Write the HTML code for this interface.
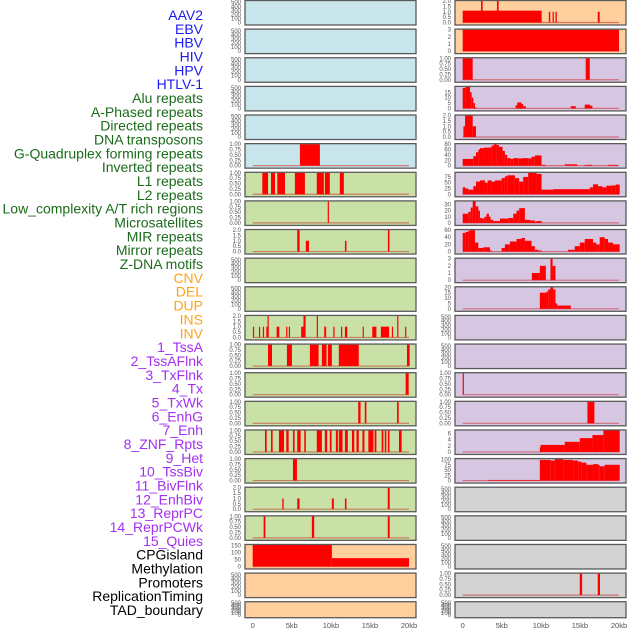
<!DOCTYPE html>
<html><head><meta charset="utf-8"><style>
html,body{margin:0;padding:0;background:#fff;}
svg{display:block;font-family:"Liberation Sans",sans-serif;}
</style></head><body>
<svg id="chart" width="630" height="630" viewBox="0 0 630 630" xmlns="http://www.w3.org/2000/svg"></svg>
<script>
// ---------- labels ----------
const labels = ["AAV2","EBV","HBV","HIV","HPV","HTLV-1","Alu repeats","A-Phased repeats","Directed repeats","DNA transposons","G-Quadruplex forming repeats","Inverted repeats","L1 repeats","L2 repeats","Low_complexity A/T rich regions","Microsatellites","MIR repeats","Mirror repeats","Z-DNA motifs","CNV","DEL","DUP","INS","INV","1_TssA","2_TssAFlnk","3_TxFlnk","4_Tx","5_TxWk","6_EnhG","7_Enh","8_ZNF_Rpts","9_Het","10_TssBiv","11_BivFlnk","12_EnhBiv","13_ReprPC","14_ReprPCWk","15_Quies","CPGisland","Methylation","Promoters","ReplicationTiming","TAD_boundary"];
const labelGroups = ["v","v","v","v","v","v","r","r","r","r","r","r","r","r","r","r","r","r","r","s","s","s","s","s","c","c","c","c","c","c","c","c","c","c","c","c","c","c","c","o","o","o","o","o"];
const xTicks = [0,5000,10000,15000,20000];
const xTickLabels = ["0","5kb","10kb","15kb","20kb"];

// ---------- tick sets ----------
const tEmpty = [0,100,200,300,400,500];
const t1 = [0,0.25,0.5,0.75,1];
const t2 = [0,0.5,1,1.5,2];

// ---------- left column data: [startKb, endKb, value] ----------
const L01=[],L02=[],L03=[],L04=[],L05=[];
const L06=[[6.04,8.6,1]];
const L07=[[1.23,1.96,1],[2.34,2.85,1],[3.15,4.13,1],[5.4,6.68,1],[8.2,9.1,1],[9.23,9.87,1],[11.15,11.66,1]];
const L08=[[9.6,9.75,1]];
const L09=[[5.7,6.0,2],[6.8,7.2,1],[11.8,12.0,1],[17.3,17.5,2]];
const L10=[],L11=[];
const L12=[[0.03,0.15,1],[0.8,0.92,1],[1.3,1.42,1],[1.74,1.86,1],[1.9,2.05,2],[3.06,3.4,1],[4.28,4.4,1],[4.62,4.74,1],[6.2,6.5,1],[6.5,6.77,2],[8.2,8.32,2],[9.15,9.4,1],[10.32,10.44,1],[11.3,11.42,1],[11.8,12.1,1],[14.07,14.19,1],[15.3,15.83,1],[16.4,17.45,1],[17.81,17.93,1],[18.49,18.61,2],[19.5,19.65,1]];
const L13=[[1.96,2.47,1],[4.38,5.02,1],[7.32,8.43,1],[8.85,9.45,1],[9.62,10.13,1],[11.02,13.57,1],[19.74,20.08,1]];
const L14=[[19.57,19.96,1]];
const L15=[[13.5,13.8,1],[14.34,14.55,1],[18.47,18.68,1]];
const L16=[[1.57,1.79,1],[2.34,2.55,1],[3.36,4.0,1],[4.3,4.6,1],[5.15,5.36,1],[5.7,6.13,1],[6.6,6.8,1],[8.2,8.85,1],[9.23,9.53,1],[9.87,10.09,1],[10.64,10.9,1],[11.02,11.5,1],[11.8,12.17,1],[12.7,13.0,1],[13.28,13.57,1],[14.04,14.3,1],[14.8,15.45,1],[15.6,15.83,1],[16.5,16.72,1],[16.9,17.1,1],[17.3,17.5,1],[18.72,19.06,1]];
const L17=[[5.15,5.66,1]];
const L18=[[3.79,3.96,1],[5.7,6.0,1],[10.13,10.38,1],[11.8,12.0,1],[17.28,17.53,2]];
const L19=[[1.4,1.62,1],[7.57,7.87,1],[17.28,17.53,1]];
const L20=[[0,10.13,155],[10.13,20.0,60]];
const L21=[],L22=[];

// ---------- right column data ----------
const R01=[[0,10.1,1.1],[2.34,2.55,2],[4.38,4.6,2],[11.02,11.2,1],[11.5,11.66,1],[11.87,12.04,1],[17.28,17.53,1]];
const R02=[[0,20.0,3]];
const R03=[[0,1.28,1],[15.74,16.26,1]];
const R04=[[0,0.34,19],[0.34,0.94,20],[0.94,1.15,15],[1.15,1.36,10],[1.36,1.57,5],[1.57,1.7,1],[6.77,6.98,3],[6.98,7.53,5.5],[7.53,7.74,4],[7.74,8.09,2],[13.83,14.47,2],[15.62,16.3,3.5],[16.3,16.6,2.5]];
const R05=[[0.09,0.3,1],[0.3,1.28,2],[1.28,1.7,1]];
const R06=[[0,1.36,25],[1.36,1.7,35],[1.7,2.0,50],[2.0,2.21,60],[2.21,2.72,65],[2.72,3.36,67],[3.36,3.7,68],[3.7,4.0,75],[4.0,4.34,80],[4.34,4.64,77],[4.64,5.1,70],[5.1,5.4,55],[5.4,5.7,40],[5.7,6.13,28],[6.13,6.47,25],[6.47,7.1,28],[7.1,7.66,27],[7.66,8.38,28],[8.38,8.81,27],[8.81,9.23,33],[9.23,10.09,38],[10.09,10.64,3],[13.06,14.64,5],[15.62,16.6,3],[18.6,19.87,3]];
const R07=[[0,0.34,30],[0.34,0.72,25],[0.72,1.36,20],[1.36,1.7,35],[1.7,2.21,55],[2.21,2.85,60],[2.85,3.19,50],[3.19,3.7,60],[3.7,4.13,55],[4.13,4.98,60],[4.98,5.4,70],[5.4,5.7,78],[5.7,6.68,82],[6.68,7.23,70],[7.23,7.74,55],[7.74,8.38,75],[8.38,9.45,93],[9.45,10.09,88],[10.09,11.57,20],[11.57,16.26,22],[16.26,16.68,30],[16.68,17.32,43],[17.32,17.87,35],[17.87,18.38,30],[18.38,19.02,37],[19.02,19.57,38],[19.57,20.09,42]];
const R08=[[0,0.72,15],[0.72,1.02,18],[1.02,1.28,25],[1.28,1.66,35],[1.66,2.0,27],[2.0,2.21,20],[2.21,2.55,8],[2.55,2.77,7],[2.77,3.06,10],[3.06,3.36,15],[3.36,3.57,10],[3.57,3.91,5],[3.91,4.77,3],[4.77,5.83,7],[5.83,6.47,8],[6.47,6.89,15],[6.89,7.23,20],[7.23,7.96,24],[7.96,8.6,5],[8.6,9.23,4],[9.23,9.45,2],[9.45,10.09,3]];
const R09=[[0,0.38,52],[0.38,0.72,55],[0.72,0.94,58],[0.94,1.57,60],[1.57,2.0,25],[2.0,2.64,10],[2.64,3.49,12],[3.49,3.7,3],[4.98,5.4,10],[5.4,6.04,20],[6.04,6.89,28],[6.89,7.53,35],[7.53,7.96,38],[7.96,8.81,30],[8.81,9.23,15],[9.23,9.66,5],[9.66,10.09,3],[13.49,14.34,5],[14.34,14.98,15],[14.98,15.62,25],[15.62,16.68,35],[16.68,17.1,25],[17.1,17.53,20],[17.53,18.17,40],[18.17,18.6,35],[18.6,19.23,25],[19.23,20.09,20]];
const R10=[[8.85,9.87,1],[9.87,10.64,2],[11.23,11.5,3],[11.5,11.87,2]];
const R11=[[9.87,10.72,15],[10.72,10.94,16],[10.94,11.23,18],[11.23,11.57,20],[11.57,11.87,18],[11.87,12.09,5],[12.09,13.83,3]];
const R12=[],R13=[];
const R14=[[0,0.15,1]];
const R15=[[15.96,16.85,1]];
const R16=[[9.87,9.96,1.5],[9.96,13.06,2.3],[13.06,14.98,3.3],[14.98,16.6,4.5],[16.6,18.0,5.5],[18.0,20.09,7]];
const R17=[[3.28,9.87,3],[9.87,11.27,98],[11.27,11.8,95],[11.8,12.85,102],[12.85,14.13,98],[14.13,14.77,95],[14.77,15.19,90],[15.19,15.83,85],[15.83,16.68,75],[16.68,17.32,78],[17.32,17.53,75],[17.53,18.17,68],[18.17,20.09,75]];
const R18=[],R19=[],R20=[];
const R21=[[14.98,15.28,1],[17.28,17.57,1]];
const R22=[];

const leftData=[L01,L02,L03,L04,L05,L06,L07,L08,L09,L10,L11,L12,L13,L14,L15,L16,L17,L18,L19,L20,L21,L22];
const rightData=[R01,R02,R03,R04,R05,R06,R07,R08,R09,R10,R11,R12,R13,R14,R15,R16,R17,R18,R19,R20,R21,R22];
const leftTicks=[tEmpty,tEmpty,tEmpty,tEmpty,tEmpty,t1,t1,t1,t2,tEmpty,tEmpty,t2,t1,t1,t1,t1,t1,t2,t1,[0,50,100,150],tEmpty,tEmpty];
const rightTicks=[t2,[0,1,2,3],t1,[0,5,10,15],t2,[0,20,40,60,80],[0,25,50,75],[0,10,20,30],[0,20,40,60],[0,1,2,3],[0,5,10,15,20],tEmpty,tEmpty,t1,t1,[0,2,4,6],[0,25,50,75,100],tEmpty,tEmpty,tEmpty,t1,tEmpty];
const leftBg=["b","b","b","b","b","b","g","g","g","g","g","g","g","g","g","g","g","g","g","o","o","o"];
const rightBg=["o","o","p","p","p","p","p","p","p","p","p","p","p","p","p","p","p","y","y","y","y","y"];

// ---------- drawing ----------
const NS="http://www.w3.org/2000/svg";
const svg=document.getElementById("chart");
const bgCol={b:"#c9e5ec",g:"#c9e1a6",o:"#ffcf9e",p:"#d7c6e2",y:"#d3d3d3"};
const grpCol={v:"#1c1cf0",r:"#1b6b1b",s:"#ffa31a",c:"#a330f0",o:"#000"};
const ROW=28.63;
function mk(tag,attrs,parent){const e=document.createElementNS(NS,tag);for(const k in attrs)e.setAttribute(k,attrs[k]);(parent||svg).appendChild(e);return e;}

// labels
labels.forEach((t,i)=>{
  const el=mk("text",{x:203,y:(15+i*(595/ (labels.length-1))).toFixed(1),"text-anchor":"end","dominant-baseline":"central","font-size":"14",fill:grpCol[labelGroups[i]]});
  el.textContent=t;
  
  
});

function fmt(v,ticks){
  const mx=ticks[ticks.length-1];
  if(mx===1)return v.toFixed(2);
  if(mx===2)return v.toFixed(1);
  return String(v);
}
function drawPanel(px,row,data,ticks,bg,side){
  const top=row*ROW+0.5;
  const h=(row===21)?16:24.5;
  const w=171;
  const g=mk("g",{});
  
  
  mk("rect",{x:px,y:top,width:w,height:h,fill:bgCol[bg]},g);
  const dataMax=data.reduce((m,d)=>Math.max(m,d[2]),0);
  const ymax=data.length?Math.max(dataMax,ticks[ticks.length-1]*(ticks[ticks.length-1]<=3?1:1)):530;
  const ybot=top+h-2.5, ytop=top+0.5;
  const ys=v=>ybot-(v/ymax)*(ybot-ytop);
  const xs=kb=>px+7.7+(kb*1000/20000)*156.3;
  if(data.length){
    const bl=mk("line",{x1:xs(0),x2:xs(20),y1:ybot,y2:ybot,stroke:"rgba(200,40,40,0.55)","stroke-width":1.2},g);
    
    
  }
  data.forEach(d=>{
    const x1=xs(d[0]),x2=xs(d[1]);
    const r=mk("rect",{x:x1.toFixed(2),y:ys(d[2]).toFixed(2),width:Math.max(1.2,x2-x1).toFixed(2),height:(ybot-ys(d[2])).toFixed(2),fill:"#ff0000"},g);
    
    
  });
  mk("rect",{x:px,y:top,width:w,height:h,fill:"none",stroke:"#5a5a5a","stroke-width":1.3},g);
  ticks.forEach(t=>{
    const tx=mk("text",{x:px-4,y:(ys(t)+2).toFixed(1),"text-anchor":"end","font-size":"6",fill:"#555"},g);
    tx.textContent=fmt(t,ticks);
    
    
  });
}
for(let r=0;r<22;r++){
  drawPanel(245,r,leftData[r],leftTicks[r],leftBg[r],'left');
  drawPanel(455,r,rightData[r],rightTicks[r],rightBg[r],'right');
}
[245,455].forEach(px=>{
  xTicks.forEach((v,i)=>{
    const t=mk("text",{x:(px+7.7+(v/20000)*156.3).toFixed(1),y:628,"text-anchor":"middle","font-size":"7.5",fill:"#555"});
    t.textContent=xTickLabels[i];
    
    
  });
});
</script>
</body></html>
